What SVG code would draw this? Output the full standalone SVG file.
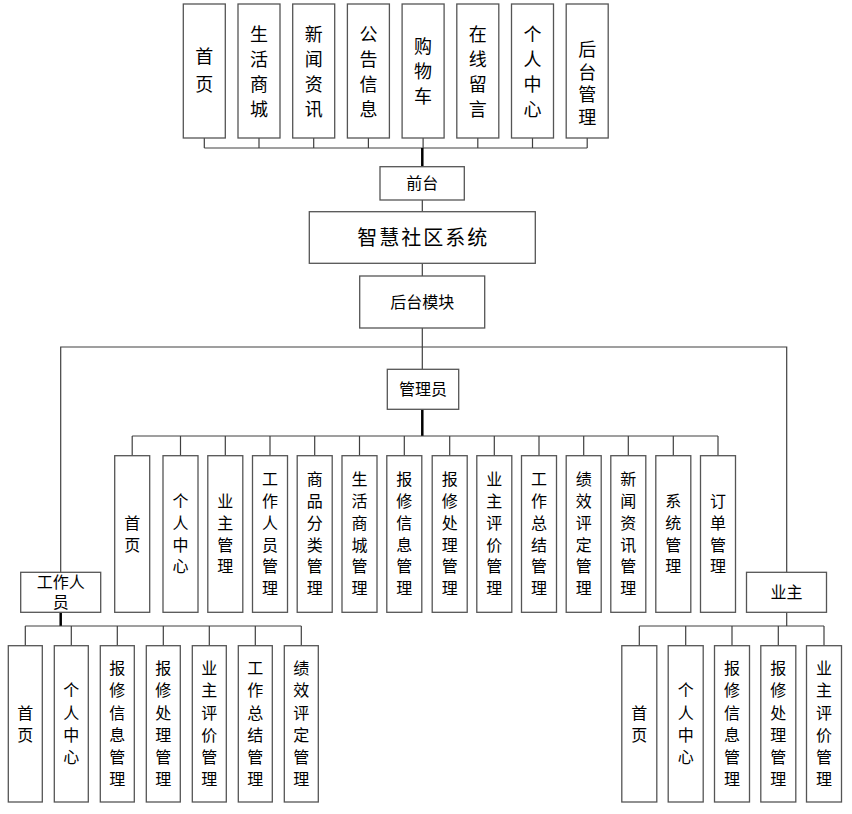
<svg xmlns="http://www.w3.org/2000/svg" width="852" height="814" viewBox="0 0 852 814">
<style>
.bg{fill:#ffffff}
.box{fill:#ffffff;stroke:#555555;stroke-width:1.3}
.ln{fill:none;stroke:#404040;stroke-width:1.2}
.thick{fill:none;stroke:#000000;stroke-width:2.5}
.t18{font-family:"Liberation Sans","Noto Sans CJK SC",sans-serif;font-size:18px;fill:#000;text-anchor:middle}
.t16{font-family:"Liberation Sans","Noto Sans CJK SC",sans-serif;font-size:16px;fill:#000;text-anchor:middle}
.t20{font-family:"Liberation Sans","Noto Sans CJK SC",sans-serif;font-size:20px;fill:#000;text-anchor:middle;letter-spacing:2px}
</style>
<rect class="bg" x="0" y="0" width="852" height="814"/>

<g id="connectors">
  <!-- top row -->
  <path class="ln" d="M204.3,138V148M259,138V148M313.7,138V148M368.4,138V148M423.1,138V148M477.8,138V148M532.5,138V148M587.2,138V148M204.3,148H587.2"/>
  <path class="thick" d="M422.3,148V166.7"/>
  <path class="ln" d="M422.3,200V211.7M422.3,263.3V276M422.3,328V369.3"/>
  <path class="ln" d="M60.7,572.3V347H786.7V572.3"/>
  <path class="thick" d="M422.3,409.3V436"/>
  <!-- admin bus -->
  <path class="ln" d="M132.2,436H718M132.2,436V455.7M180.5,436V455.7M225.3,436V455.7M270,436V455.7M314.7,436V455.7M359.5,436V455.7M404.3,436V455.7M449.7,436V455.7M494.3,436V455.7M539,436V455.7M583.7,436V455.7M628.3,436V455.7M673.3,436V455.7M718,436V455.7"/>
  <!-- staff bus -->
  <path class="thick" d="M60.7,612.3V626"/>
  <path class="ln" d="M25.3,626H301.3M25.3,626V645.7M71.3,626V645.7M117.3,626V645.7M163.3,626V645.7M209.3,626V645.7M255.3,626V645.7M301.3,626V645.7"/>
  <!-- owner bus -->
  <path class="ln" d="M786.7,612.3V626M639.3,626H824M639.3,626V645.7M685.7,626V645.7M732,626V645.7M778.3,626V645.7M824,626V645.7"/>
</g>

<!-- top row -->
<g id="f-home"><rect class="box" x="183.3" y="4" width="42" height="134"/>
<text class="t18"><tspan x="204.3" y="63.3">首</tspan><tspan x="204.3" y="91.3">页</tspan></text></g>
<g id="f-mall"><rect class="box" x="238" y="4" width="42" height="134"/>
<text class="t18"><tspan x="259" y="41.3">生</tspan><tspan x="259" y="66.3">活</tspan><tspan x="259" y="91.3">商</tspan><tspan x="259" y="116.3">城</tspan></text></g>
<g id="f-news"><rect class="box" x="292.7" y="4" width="42" height="134"/>
<text class="t18"><tspan x="313.7" y="41.3">新</tspan><tspan x="313.7" y="66.3">闻</tspan><tspan x="313.7" y="91.3">资</tspan><tspan x="313.7" y="116.3">讯</tspan></text></g>
<g id="f-notice"><rect class="box" x="347.4" y="4" width="42" height="134"/>
<text class="t18"><tspan x="368.4" y="41.3">公</tspan><tspan x="368.4" y="66.3">告</tspan><tspan x="368.4" y="91.3">信</tspan><tspan x="368.4" y="116.3">息</tspan></text></g>
<g id="f-cart"><rect class="box" x="402.1" y="4" width="42" height="134"/>
<text class="t18"><tspan x="423.1" y="53.3">购</tspan><tspan x="423.1" y="78.3">物</tspan><tspan x="423.1" y="103.3">车</tspan></text></g>
<g id="f-msg"><rect class="box" x="456.8" y="4" width="42" height="134"/>
<text class="t18"><tspan x="477.8" y="41.3">在</tspan><tspan x="477.8" y="66.3">线</tspan><tspan x="477.8" y="91.3">留</tspan><tspan x="477.8" y="116.3">言</tspan></text></g>
<g id="f-user"><rect class="box" x="511.5" y="4" width="42" height="134"/>
<text class="t18"><tspan x="532.5" y="41.3">个</tspan><tspan x="532.5" y="66.3">人</tspan><tspan x="532.5" y="91.3">中</tspan><tspan x="532.5" y="116.3">心</tspan></text></g>
<g id="f-admin"><rect class="box" x="566.2" y="4" width="42" height="134"/>
<text class="t18"><tspan x="587.2" y="56.3">后</tspan><tspan x="587.2" y="78.8">台</tspan><tspan x="587.2" y="101.3">管</tspan><tspan x="587.2" y="123.8">理</tspan></text></g>

<g id="front"><rect class="box" x="380" y="166.7" width="84.3" height="33.3"/>
<text class="t16" x="422.2" y="189">前台</text></g>
<g id="system"><rect class="box" x="309.3" y="211.7" width="226" height="51.6"/>
<text class="t20" x="423.3" y="244.5">智慧社区系统</text></g>
<g id="backend"><rect class="box" x="359.7" y="276" width="125" height="52"/>
<text class="t16" x="422.2" y="307.6">后台模块</text></g>
<g id="admin"><rect class="box" x="387.3" y="369.3" width="71.4" height="40"/>
<text class="t16" x="423" y="395">管理员</text></g>
<g id="staff"><rect class="box" x="20.7" y="572.3" width="80" height="40"/>
<text class="t16"><tspan x="60.7" y="587.6">工作人</tspan><tspan x="60.7" y="607.6">员</tspan></text></g>
<g id="owner"><rect class="box" x="746.5" y="572.3" width="80" height="40"/>
<text class="t16" x="786.5" y="598">业主</text></g>

<!-- admin children -->
<g id="a1"><rect class="box" x="114.7" y="455.7" width="35" height="156.6"/>
<text class="t16"><tspan x="132.2" y="528.8">首</tspan><tspan x="132.2" y="550.5">页</tspan></text></g>
<g id="a2"><rect class="box" x="163" y="455.7" width="35" height="156.6"/>
<text class="t16"><tspan x="180.5" y="507.1">个</tspan><tspan x="180.5" y="528.8">人</tspan><tspan x="180.5" y="550.5">中</tspan><tspan x="180.5" y="572.2">心</tspan></text></g>
<g id="a3"><rect class="box" x="207.8" y="455.7" width="35" height="156.6"/>
<text class="t16"><tspan x="225.3" y="507.1">业</tspan><tspan x="225.3" y="528.8">主</tspan><tspan x="225.3" y="550.5">管</tspan><tspan x="225.3" y="572.2">理</tspan></text></g>
<g id="a4"><rect class="box" x="252.5" y="455.7" width="35" height="156.6"/>
<text class="t16"><tspan x="270" y="485.4">工</tspan><tspan x="270" y="507.1">作</tspan><tspan x="270" y="528.8">人</tspan><tspan x="270" y="550.5">员</tspan><tspan x="270" y="572.2">管</tspan><tspan x="270" y="593.9">理</tspan></text></g>
<g id="a5"><rect class="box" x="297.2" y="455.7" width="35" height="156.6"/>
<text class="t16"><tspan x="314.7" y="485.4">商</tspan><tspan x="314.7" y="507.1">品</tspan><tspan x="314.7" y="528.8">分</tspan><tspan x="314.7" y="550.5">类</tspan><tspan x="314.7" y="572.2">管</tspan><tspan x="314.7" y="593.9">理</tspan></text></g>
<g id="a6"><rect class="box" x="342" y="455.7" width="35" height="156.6"/>
<text class="t16"><tspan x="359.5" y="485.4">生</tspan><tspan x="359.5" y="507.1">活</tspan><tspan x="359.5" y="528.8">商</tspan><tspan x="359.5" y="550.5">城</tspan><tspan x="359.5" y="572.2">管</tspan><tspan x="359.5" y="593.9">理</tspan></text></g>
<g id="a7"><rect class="box" x="386.8" y="455.7" width="35" height="156.6"/>
<text class="t16"><tspan x="404.3" y="485.4">报</tspan><tspan x="404.3" y="507.1">修</tspan><tspan x="404.3" y="528.8">信</tspan><tspan x="404.3" y="550.5">息</tspan><tspan x="404.3" y="572.2">管</tspan><tspan x="404.3" y="593.9">理</tspan></text></g>
<g id="a8"><rect class="box" x="432.2" y="455.7" width="35" height="156.6"/>
<text class="t16"><tspan x="449.7" y="485.4">报</tspan><tspan x="449.7" y="507.1">修</tspan><tspan x="449.7" y="528.8">处</tspan><tspan x="449.7" y="550.5">理</tspan><tspan x="449.7" y="572.2">管</tspan><tspan x="449.7" y="593.9">理</tspan></text></g>
<g id="a9"><rect class="box" x="476.8" y="455.7" width="35" height="156.6"/>
<text class="t16"><tspan x="494.3" y="485.4">业</tspan><tspan x="494.3" y="507.1">主</tspan><tspan x="494.3" y="528.8">评</tspan><tspan x="494.3" y="550.5">价</tspan><tspan x="494.3" y="572.2">管</tspan><tspan x="494.3" y="593.9">理</tspan></text></g>
<g id="a10"><rect class="box" x="521.5" y="455.7" width="35" height="156.6"/>
<text class="t16"><tspan x="539" y="485.4">工</tspan><tspan x="539" y="507.1">作</tspan><tspan x="539" y="528.8">总</tspan><tspan x="539" y="550.5">结</tspan><tspan x="539" y="572.2">管</tspan><tspan x="539" y="593.9">理</tspan></text></g>
<g id="a11"><rect class="box" x="566.2" y="455.7" width="35" height="156.6"/>
<text class="t16"><tspan x="583.7" y="485.4">绩</tspan><tspan x="583.7" y="507.1">效</tspan><tspan x="583.7" y="528.8">评</tspan><tspan x="583.7" y="550.5">定</tspan><tspan x="583.7" y="572.2">管</tspan><tspan x="583.7" y="593.9">理</tspan></text></g>
<g id="a12"><rect class="box" x="610.8" y="455.7" width="35" height="156.6"/>
<text class="t16"><tspan x="628.3" y="485.4">新</tspan><tspan x="628.3" y="507.1">闻</tspan><tspan x="628.3" y="528.8">资</tspan><tspan x="628.3" y="550.5">讯</tspan><tspan x="628.3" y="572.2">管</tspan><tspan x="628.3" y="593.9">理</tspan></text></g>
<g id="a13"><rect class="box" x="655.8" y="455.7" width="35" height="156.6"/>
<text class="t16"><tspan x="673.3" y="507.1">系</tspan><tspan x="673.3" y="528.8">统</tspan><tspan x="673.3" y="550.5">管</tspan><tspan x="673.3" y="572.2">理</tspan></text></g>
<g id="a14"><rect class="box" x="700.5" y="455.7" width="35" height="156.6"/>
<text class="t16"><tspan x="718" y="507.1">订</tspan><tspan x="718" y="528.8">单</tspan><tspan x="718" y="550.5">管</tspan><tspan x="718" y="572.2">理</tspan></text></g>

<!-- staff children -->
<g id="s1"><rect class="box" x="8.3" y="645.7" width="34" height="156.3"/>
<text class="t16"><tspan x="25.3" y="718.5">首</tspan><tspan x="25.3" y="740.8">页</tspan></text></g>
<g id="s2"><rect class="box" x="54.3" y="645.7" width="34" height="156.3"/>
<text class="t16"><tspan x="71.3" y="696.2">个</tspan><tspan x="71.3" y="718.5">人</tspan><tspan x="71.3" y="740.8">中</tspan><tspan x="71.3" y="763.1">心</tspan></text></g>
<g id="s3"><rect class="box" x="100.3" y="645.7" width="34" height="156.3"/>
<text class="t16"><tspan x="117.3" y="673.9">报</tspan><tspan x="117.3" y="696.2">修</tspan><tspan x="117.3" y="718.5">信</tspan><tspan x="117.3" y="740.8">息</tspan><tspan x="117.3" y="763.1">管</tspan><tspan x="117.3" y="785.4">理</tspan></text></g>
<g id="s4"><rect class="box" x="146.3" y="645.7" width="34" height="156.3"/>
<text class="t16"><tspan x="163.3" y="673.9">报</tspan><tspan x="163.3" y="696.2">修</tspan><tspan x="163.3" y="718.5">处</tspan><tspan x="163.3" y="740.8">理</tspan><tspan x="163.3" y="763.1">管</tspan><tspan x="163.3" y="785.4">理</tspan></text></g>
<g id="s5"><rect class="box" x="192.3" y="645.7" width="34" height="156.3"/>
<text class="t16"><tspan x="209.3" y="673.9">业</tspan><tspan x="209.3" y="696.2">主</tspan><tspan x="209.3" y="718.5">评</tspan><tspan x="209.3" y="740.8">价</tspan><tspan x="209.3" y="763.1">管</tspan><tspan x="209.3" y="785.4">理</tspan></text></g>
<g id="s6"><rect class="box" x="238.3" y="645.7" width="34" height="156.3"/>
<text class="t16"><tspan x="255.3" y="673.9">工</tspan><tspan x="255.3" y="696.2">作</tspan><tspan x="255.3" y="718.5">总</tspan><tspan x="255.3" y="740.8">结</tspan><tspan x="255.3" y="763.1">管</tspan><tspan x="255.3" y="785.4">理</tspan></text></g>
<g id="s7"><rect class="box" x="284.3" y="645.7" width="34" height="156.3"/>
<text class="t16"><tspan x="301.3" y="673.9">绩</tspan><tspan x="301.3" y="696.2">效</tspan><tspan x="301.3" y="718.5">评</tspan><tspan x="301.3" y="740.8">定</tspan><tspan x="301.3" y="763.1">管</tspan><tspan x="301.3" y="785.4">理</tspan></text></g>

<!-- owner children -->
<g id="o1"><rect class="box" x="621.8" y="645.7" width="35" height="156.3"/>
<text class="t16"><tspan x="639.3" y="718.5">首</tspan><tspan x="639.3" y="740.8">页</tspan></text></g>
<g id="o2"><rect class="box" x="668.2" y="645.7" width="35" height="156.3"/>
<text class="t16"><tspan x="685.7" y="696.2">个</tspan><tspan x="685.7" y="718.5">人</tspan><tspan x="685.7" y="740.8">中</tspan><tspan x="685.7" y="763.1">心</tspan></text></g>
<g id="o3"><rect class="box" x="714.5" y="645.7" width="35" height="156.3"/>
<text class="t16"><tspan x="732" y="673.9">报</tspan><tspan x="732" y="696.2">修</tspan><tspan x="732" y="718.5">信</tspan><tspan x="732" y="740.8">息</tspan><tspan x="732" y="763.1">管</tspan><tspan x="732" y="785.4">理</tspan></text></g>
<g id="o4"><rect class="box" x="760.8" y="645.7" width="35" height="156.3"/>
<text class="t16"><tspan x="778.3" y="673.9">报</tspan><tspan x="778.3" y="696.2">修</tspan><tspan x="778.3" y="718.5">处</tspan><tspan x="778.3" y="740.8">理</tspan><tspan x="778.3" y="763.1">管</tspan><tspan x="778.3" y="785.4">理</tspan></text></g>
<g id="o5"><rect class="box" x="806.5" y="645.7" width="35" height="156.3"/>
<text class="t16"><tspan x="824" y="673.9">业</tspan><tspan x="824" y="696.2">主</tspan><tspan x="824" y="718.5">评</tspan><tspan x="824" y="740.8">价</tspan><tspan x="824" y="763.1">管</tspan><tspan x="824" y="785.4">理</tspan></text></g>
</svg>
